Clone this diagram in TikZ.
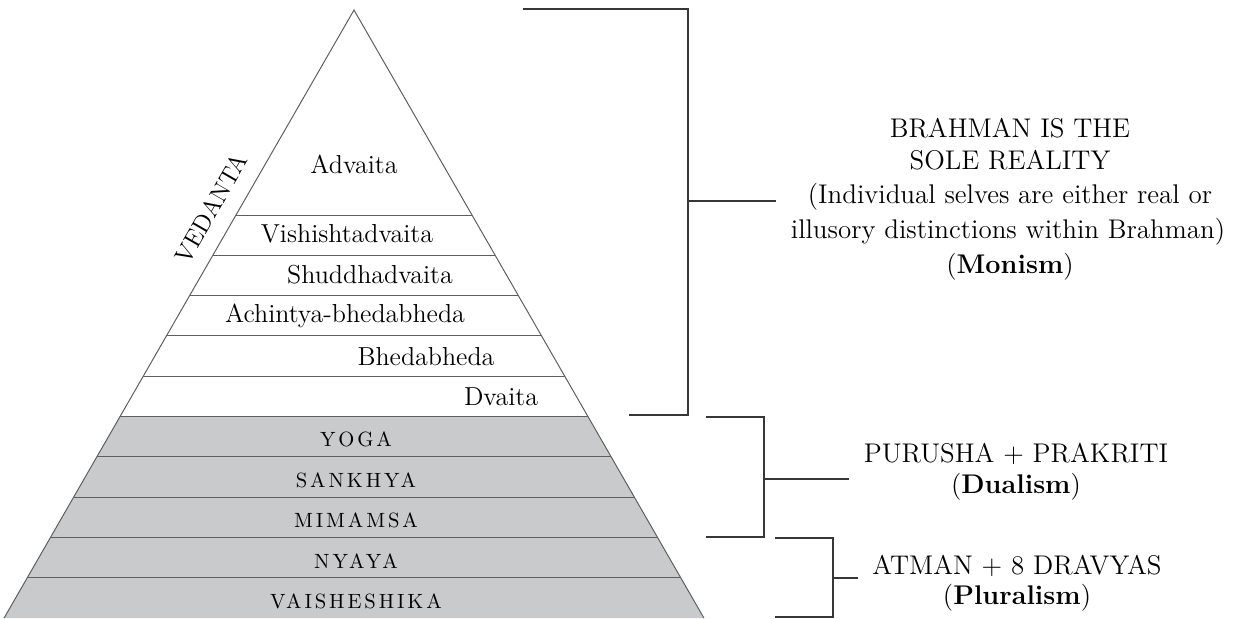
\documentclass[tikz,border=0pt]{standalone}
\usepackage{fontspec}
\usetikzlibrary{calc}
\newfontfamily\bandfont{lmroman10-regular.otf}[LetterSpace=14]
\definecolor{bandgray}{RGB}{201,202,204}
\definecolor{edgegray}{RGB}{95,95,95}
\definecolor{brk}{RGB}{55,55,55}
\begin{document}
\begin{tikzpicture}[x=0.5pt,y=-0.5pt,
  edge/.style={draw=edgegray,line width=0.5pt},
  bracket/.style={draw=brk,line width=0.8pt},
  school/.style={inner sep=0pt,anchor=base,font=\fontsize{13}{15}\selectfont},
  darsana/.style={inner sep=0pt,anchor=base,font=\bandfont\fontsize{10.3}{12}\selectfont},
  view/.style={inner sep=0pt,anchor=base,font=\fontsize{13.5}{16}\selectfont}]
\useasboundingbox (0,0) rectangle (1233,618);
\coordinate (A) at (354,10);
\coordinate (BL) at (4.1,618);
\coordinate (BR) at (703.9,618);
% gray lower part
\fill[bandgray] (120.1,416.5) -- (587.9,416.5) -- (BR) -- (BL) -- cycle;
% band separators
\foreach \yy in {215,255.3,295.6,335.9,376.2,416.5,456.8,497.1,537.4,577.7}{
  \draw[edge] ($(A)!{(\yy-10)/608}!(BL)$) -- ($(A)!{(\yy-10)/608}!(BR)$);
}
\draw[edge] (BL) -- (A) -- (BR);
% Vedanta schools
\node[school] (advaita) at (354,173) {Advaita};
\node[school] (vishisht) at (347,242) {Vishishtadvaita};
\node[school] (shuddh) at (370,283) {Shuddhadvaita};
\node[school] (achintya) at (345,322) {Achintya-bhedabheda};
\node[school] (bhedabheda) at (426,365) {Bhedabheda};
\node[school] (dvaita) at (501,405) {Dvaita};
\node[inner sep=0pt,rotate=60.08,font=\fontsize{12.3}{14}\selectfont] (vedanta) at (211,208) {VEDANTA};
% other darsanas
\node[darsana] (yoga) at (356,446) {YOGA};
\node[darsana] (sankhya) at (356,487) {SANKHYA};
\node[darsana] (mimamsa) at (356,527) {MIMAMSA};
\node[darsana] (nyaya) at (356,568) {NYAYA};
\node[darsana] (vaish) at (356,608) {VAISHESHIKA};
% brackets
\draw[bracket] (523,9) -- (688,9) -- (688,415) -- (629,415);
\coordinate (t1a) at (688,201); \coordinate (t1b) at (776,201);
\draw[bracket] (t1a) -- (t1b);
\draw[bracket] (706,417) -- (764,417) -- (764,537) -- (706,537);
\coordinate (t2a) at (764,479); \coordinate (t2b) at (849,479);
\draw[bracket] (t2a) -- (t2b);
\draw[bracket] (775,538) -- (833,538) -- (833,617) -- (775,617);
\coordinate (t3a) at (833,578); \coordinate (t3b) at (858,578);
\draw[bracket] (t3a) -- (t3b);
% right texts
\node[view] (m1) at (1010,137) {BRAHMAN IS THE};
\node[view] (m2) at (1010,169) {SOLE REALITY};
\node[view] (m3) at (1010,203) {(Individual selves are either real or};
\node[view] (m4) at (1008,238) {illusory distinctions within Brahman)};
\node[view] (m5) at (1010,273) {(\textbf{Monism})};
\node[view] (d1) at (1016,462) {PURUSHA + PRAKRITI};
\node[view] (d2) at (1016,493) {(\textbf{Dualism})};
\node[view] (p1) at (1017,574) {ATMAN + 8 DRAVYAS};
\node[view] (p2) at (1017,604) {(\textbf{Pluralism})};
\end{tikzpicture}
\end{document}
